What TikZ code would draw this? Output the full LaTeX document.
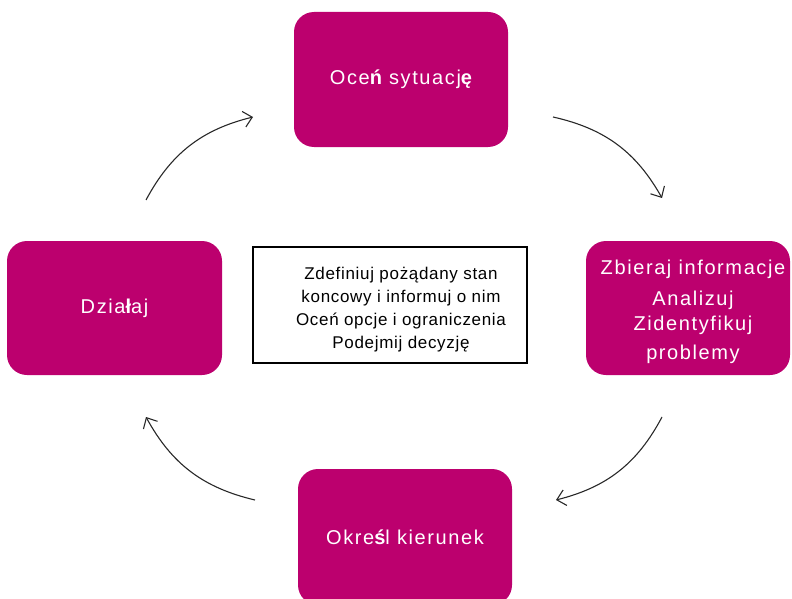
\documentclass[tikz,border=0pt]{standalone}
\usepackage{fontspec}
\setmainfont{Liberation Sans}
\newfontfamily\pinkfont[LetterSpace=8]{Liberation Sans}
\newfontfamily\midfont[LetterSpace=4]{Liberation Sans}
\usetikzlibrary{arrows.meta}
\definecolor{magentabox}{RGB}{188,0,110}
\definecolor{arrowgray}{RGB}{40,40,40}
\tikzset{
  pinkbox/.style={rectangle, rounded corners=20pt, fill=magentabox, draw=none,
    text=white, inner sep=0pt, align=center,
    font=\pinkfont\fontsize{20}{28}\selectfont},
  pinktext/.style={inner sep=0pt, align=center, text=white,
    font=\pinkfont\fontsize{20}{28}\selectfont},
  midbox/.style={rectangle, draw=black, line width=1.8pt, fill=white,
    inner sep=0pt},
  midtext/.style={inner sep=0pt, align=center, text=black,
    font=\midfont\fontsize{17}{23}\selectfont},
  cyclearrow/.style={draw=arrowgray, line width=1.1pt,
    -{Straight Barb[length=8.5pt,width=16pt,line width=1.1pt]}}
}
\begin{document}
\begin{tikzpicture}[x=1pt,y=-1pt]
\useasboundingbox (0,0) rectangle (792,599);
\clip (0,0) rectangle (792,599);
\node[pinkbox, minimum width=214pt, minimum height=135pt] (top) at (401,79.5)
  {Oce{\bfseries ń} sytuacj{\bfseries ę}};
\node[pinkbox, minimum width=204pt, minimum height=134pt] (right) at (688,308) {};
\node[pinktext] (righttext) at (693,312)
  {Zbieraj informacje\\[3pt]Analizuj\\[-3pt]Zidentyfikuj\\[1pt]problemy};
\node[pinkbox, minimum width=214pt, minimum height=136pt] (bottom) at (405,537)
  {Okre{\bfseries ś}l kierunek};
\node[pinkbox, minimum width=215pt, minimum height=134pt] (left) at (114.5,308)
  {Dzia{\bfseries ł}aj};
\node[midbox, minimum width=274pt, minimum height=116pt] (mid) at (390,305) {};
\node[midtext] (midlines) at (401,310)
  {Zdefiniuj pożądany stan\\koncowy i informuj o nim\\Oceń opcje i ograniczenia\\Podejmij decyzję};
\coordinate (a1s) at (146,200);
\coordinate (a1e) at (253,117);
\coordinate (a2s) at (553,117);
\coordinate (a2e) at (662,198);
\coordinate (a3s) at (662,417);
\coordinate (a3e) at (556,500);
\coordinate (a4s) at (255,500);
\coordinate (a4e) at (146,417);
\draw[cyclearrow] (a1s) to[bend left=24] (a1e);
\draw[cyclearrow] (a2s) to[bend left=24] (a2e);
\draw[cyclearrow] (a3s) to[bend left=24] (a3e);
\draw[cyclearrow] (a4s) to[bend left=24] (a4e);
\end{tikzpicture}
\end{document}
